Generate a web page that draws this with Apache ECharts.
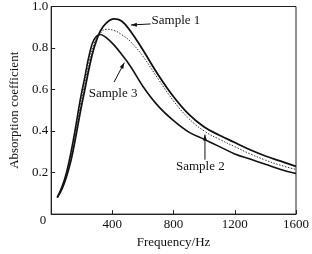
<!DOCTYPE html>
<html>
<head>
<meta charset="utf-8">
<script src="https://cdn.jsdelivr.net/npm/echarts@6/dist/echarts.min.js"></script>
<style>
  html, body { margin: 0; padding: 0; background: #fff; }
  #chart { width: 312px; height: 254px; }
</style>
</head>
<body>
<div id="chart"></div>
<script>
// frequency (Hz) sample points
var freq = [40, 70, 100, 130, 160, 190, 220, 250, 280, 320, 360, 410, 460, 520, 600, 700, 800, 900, 1000, 1100, 1200, 1300, 1400, 1500, 1600];
// absorption coefficient
var sample1 = [0.08, 0.12, 0.18, 0.26, 0.37, 0.49, 0.60, 0.71, 0.80, 0.88, 0.92, 0.94, 0.93, 0.88, 0.79, 0.67, 0.565, 0.48, 0.42, 0.38, 0.345, 0.31, 0.28, 0.255, 0.23];
var sample2 = [0.08, 0.125, 0.19, 0.28, 0.39, 0.52, 0.63, 0.74, 0.82, 0.87, 0.89, 0.885, 0.865, 0.83, 0.76, 0.65, 0.545, 0.46, 0.40, 0.36, 0.325, 0.29, 0.26, 0.235, 0.215];
var sample3 = [0.08, 0.13, 0.20, 0.30, 0.42, 0.55, 0.66, 0.77, 0.84, 0.865, 0.85, 0.815, 0.77, 0.71, 0.615, 0.52, 0.45, 0.395, 0.36, 0.325, 0.29, 0.265, 0.24, 0.215, 0.196];
var xTicks = [0, 400, 800, 1200, 1600];
var yTicks = [0, 0.2, 0.4, 0.6, 0.8, 1.0];

// labels: [text, text x, text y, arrow tail x, tail y, head x, head y] in data units
var notes = [
    ['Sample 1', 656, 0.93, 650, 0.916, 521, 0.911],
    ['Sample 3', 405, 0.579, 411, 0.636, 478, 0.729],
    ['Sample 2', 975, 0.229, 1005, 0.262, 1005, 0.383]
];

function pairs(xs, ys) {
    var out = [];
    for (var i = 0; i < xs.length; i++) out.push([xs[i], ys[i]]);
    return out;
}

var font = '"Liberation Serif", "Times New Roman", serif';
var chart = echarts.init(document.getElementById('chart'));

chart.setOption({
    animation: false,
    grid: { left: 40, right: 11, top: 5, bottom: 35, show: true, borderColor: '#222', borderWidth: 1 },
    xAxis: {
        type: 'value', min: xTicks[0], max: xTicks[xTicks.length - 1], interval: 400,
        name: 'Frequency/Hz', nameLocation: 'middle', nameGap: 20,
        nameTextStyle: { fontFamily: font, fontSize: 13, color: '#111' },
        axisLine: { lineStyle: { color: '#222', width: 1 } },
        axisTick: { inside: true, length: 4, lineStyle: { color: '#222' } },
        axisLabel: {
            fontFamily: font, fontSize: 13, color: '#111', margin: 4,
            formatter: function (v) { return v === 0 ? '' : String(v); }
        },
        splitLine: { show: false }
    },
    yAxis: {
        type: 'value', min: yTicks[0], max: yTicks[yTicks.length - 1], interval: 0.2,
        name: 'Absorption coefficient', nameLocation: 'middle', nameGap: 24,
        nameTextStyle: { fontFamily: font, fontSize: 13, color: '#111' },
        axisLine: { lineStyle: { color: '#222', width: 1 } },
        axisTick: { inside: true, length: 4, lineStyle: { color: '#222' } },
        axisLabel: {
            fontFamily: font, fontSize: 13, color: '#111', margin: 3,
            formatter: function (v) { return v === 0 ? '' : v.toFixed(1); }
        },
        splitLine: { show: false }
    },
    series: [
        { name: 'Sample 1', type: 'line', smooth: 0.4, symbol: 'none', data: pairs(freq, sample1),
          lineStyle: { color: '#111', width: 1.8 } },
        { name: 'Sample 2', type: 'line', smooth: 0.4, symbol: 'none', data: pairs(freq, sample2),
          lineStyle: { color: '#333', width: 1, type: [1.5, 1.5] } },
        { name: 'Sample 3', type: 'line', smooth: 0.4, symbol: 'none', data: pairs(freq, sample3),
          lineStyle: { color: '#111', width: 1.6 } }
    ]
});

// annotations placed from data coordinates
var els = [];
var o = chart.convertToPixel({ gridIndex: 0 }, [xTicks[0], yTicks[0]]);
// shared origin label, sits a little below the corner
els.push({
    type: 'text', x: o[0] - 5, y: o[1] + 6,
    style: { text: '0', font: '13px ' + font, fill: '#111', align: 'right', verticalAlign: 'middle' }
});
notes.forEach(function (n, i) {
    var t = chart.convertToPixel({ gridIndex: 0 }, [n[1], n[2]]);
    var a = chart.convertToPixel({ gridIndex: 0 }, [n[3], n[4]]);
    var b = chart.convertToPixel({ gridIndex: 0 }, [n[5], n[6]]);
    els.push({
        type: 'text', x: t[0], y: t[1],
        style: { text: n[0], font: '13px ' + font, fill: '#111',
                 align: i === 0 ? 'left' : 'center', verticalAlign: 'middle' }
    });
    els.push({
        type: 'line', shape: { x1: a[0], y1: a[1], x2: b[0], y2: b[1] },
        style: { stroke: '#111', lineWidth: 1 }
    });
    var ang = Math.atan2(b[1] - a[1], b[0] - a[0]);
    var L = 6, W = 2;
    els.push({
        type: 'polygon',
        shape: { points: [
            [b[0], b[1]],
            [b[0] - L * Math.cos(ang) + W * Math.sin(ang), b[1] - L * Math.sin(ang) - W * Math.cos(ang)],
            [b[0] - L * Math.cos(ang) - W * Math.sin(ang), b[1] - L * Math.sin(ang) + W * Math.cos(ang)]
        ] },
        style: { fill: '#111' }
    });
});
chart.setOption({ graphic: els });
</script>
</body>
</html>
